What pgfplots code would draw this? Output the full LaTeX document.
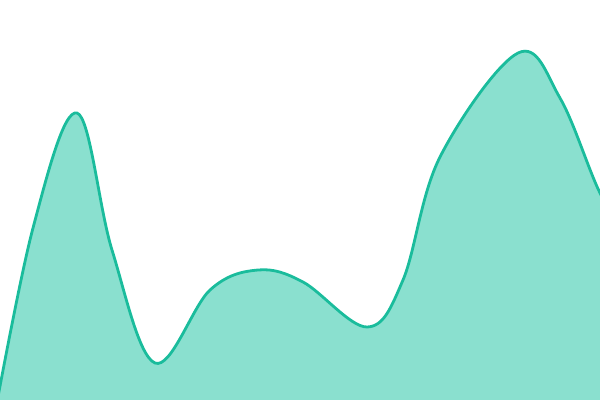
\documentclass[border=0pt]{standalone}
\usepackage{pgfplots}
\pgfplotsset{compat=1.18}
\definecolor{tealline}{HTML}{1ABC9C}
\definecolor{tealfill}{HTML}{8AE0CF}
\begin{document}
\begin{tikzpicture}
  \begin{axis}[
      scale only axis,
      width=450pt, height=300pt,
      xmin=0, xmax=600, ymin=0, ymax=400,
      hide axis,
      clip=true,
    ]
    % keep the whole plot area as the picture's size
    \path (rel axis cs:0,0) rectangle (rel axis cs:1,1);
    % y values (pixels from the bottom)
    \pgfplotstableread{
      x    y
      -10  -40
      33   172
      77   287
      112  150
      155  37
      210  110
      258  130
      303  118
      367  73
      403  120
      440  243
      518  347
      560  302
      600  207
      630  160
    }\curve
    \addplot[draw=none, fill=tealfill, smooth, tension=0.6]
      table {\curve} \closedcycle;
    \addplot[tealline, line width=2.1pt, smooth, tension=0.6]
      table {\curve};
  \end{axis}
\end{tikzpicture}
\end{document}
